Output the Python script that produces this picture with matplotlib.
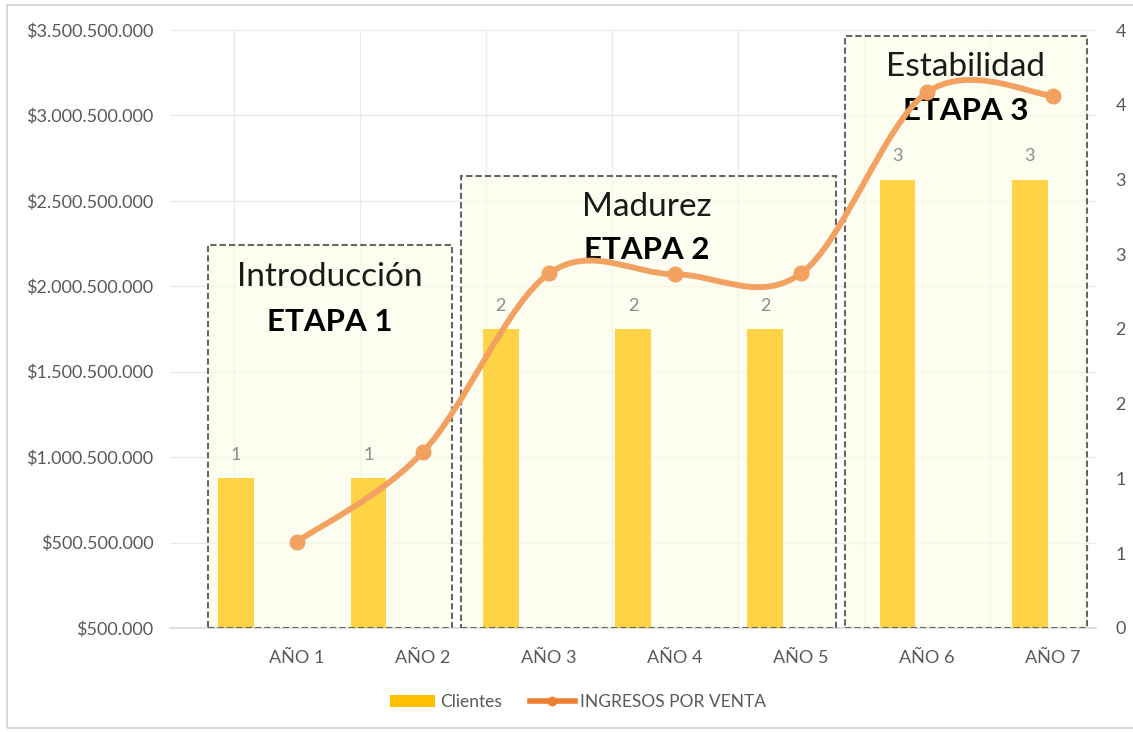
import numpy as np
import matplotlib
matplotlib.use("Agg")
import matplotlib.pyplot as plt
from matplotlib.path import Path
from matplotlib.patches import PathPatch, Rectangle, Patch
from matplotlib.lines import Line2D
from matplotlib.ticker import FuncFormatter, MultipleLocator

plt.rcParams["font.family"] = ["Lato", "DejaVu Sans"]

# ── Data ──────────────────────────────────────────────────────────────────────
years    = ["AÑO 1", "AÑO 2", "AÑO 3", "AÑO 4", "AÑO 5", "AÑO 6", "AÑO 7"]
clientes = [1, 1, 2, 2, 2, 3, 3]
ingresos = [505_500_000, 1_030_500_000, 2_075_500_000, 2_070_500_000,
            2_075_500_000, 3_135_500_000, 3_115_500_000]

stage_names  = ["Introducción", "Madurez", "Estabilidad"]
stage_labels = ["ETAPA 1", "ETAPA 2", "ETAPA 3"]

# ── Style ─────────────────────────────────────────────────────────────────────
BAR_COLOR   = "#FFD346"
LINE_COLOR  = "#F2A161"
LEG_BAR     = "#FFC000"
LEG_LINE    = "#ED7D31"
TICK_COLOR  = "#595959"
GRID_COLOR  = "#EBEBEB"
BOX_FILL    = "#FDFDE6"


def money(v, _pos):
    return "$" + f"{int(round(v)):,}".replace(",", ".")


def round_half_up(v, _pos):
    return f"{int(np.floor(v + 0.5))}"


def smooth_path(xs, ys):
    """Excel-like smoothed line: cubic Bezier segments (Catmull-Rom tangents)."""
    pts = np.column_stack([xs, ys]).astype(float)
    ext = np.vstack([pts[0], pts, pts[-1]])
    verts = [tuple(pts[0])]
    codes = [Path.MOVETO]
    for i in range(len(pts) - 1):
        p0, p1, p2, p3 = ext[i], ext[i + 1], ext[i + 2], ext[i + 3]
        c1 = p1 + (p2 - p0) / 6.0
        c2 = p2 - (p3 - p1) / 6.0
        verts += [tuple(c1), tuple(c2), tuple(p2)]
        codes += [Path.CURVE4] * 3
    return Path(verts, codes)


fig = plt.figure(figsize=(11.33, 7.32), dpi=100)
rect = [0.150, 0.1421, 0.8173, 0.8169]

# --- base layer: money axis, category labels and grid
ax = fig.add_axes(rect, zorder=0)
x = np.arange(len(years))
ax.set_xlim(-1.008, 6.34)
ax.set_ylim(500_000, 3_500_500_000)
ax.set_yticks(np.arange(500_000, 3_500_500_001, 500_000_000))
ax.yaxis.set_major_formatter(FuncFormatter(money))
ax.set_xticks(x)
ax.set_xticklabels(years)
ax.set_xticks(x - 0.5, minor=True)
ax.tick_params(which="both", length=0, colors=TICK_COLOR, labelsize=13)
ax.tick_params(axis="y", pad=12)
ax.tick_params(axis="x", pad=16)
ax.grid(True, axis="y", color=GRID_COLOR, lw=1)
ax.grid(True, axis="x", which="minor", color=GRID_COLOR, lw=1)
for s in ["top", "left", "right"]:
    ax.spines[s].set_visible(False)
ax.spines["bottom"].set_color("#D9D9D9")
ax.spines["bottom"].set_linewidth(1.2)

# --- middle layer: stage boxes and client bars
axb = fig.add_axes(rect, zorder=1)
axb.patch.set_alpha(0)
axb.set_xlim(-0.5, len(years) - 0.5)
axb.set_ylim(0, 4)
axb.set_xticks([])
axb.yaxis.tick_right()
axb.yaxis.set_major_locator(MultipleLocator(0.5))
axb.yaxis.set_major_formatter(FuncFormatter(round_half_up))
axb.tick_params(axis="y", length=0, colors=TICK_COLOR, labelsize=13, pad=14)
for s in axb.spines.values():
    s.set_visible(False)

boxes = [(0.041, 0.3045, 0.640), (0.314, 0.719, 0.756), (0.729, 0.990, 0.990)]
title_pos = [(0.173, 0.587, 0.512), (0.515, 0.704, 0.632), (0.859, 0.938, 0.865)]
for (x0, x1, y1), (tx, ty1, ty2), name, lab in zip(boxes, title_pos,
                                                   stage_names, stage_labels):
    axb.add_patch(Rectangle((x0, 0.0), x1 - x0, y1, transform=axb.transAxes,
                            facecolor=BOX_FILL, alpha=0.6, edgecolor="none",
                            zorder=1))
    axb.add_patch(Rectangle((x0, 0.0), x1 - x0, y1, transform=axb.transAxes,
                            facecolor="none", edgecolor="#666666", lw=1.5,
                            linestyle=(0, (3, 1.5)), zorder=4))
    axb.text(tx, ty1, name, transform=axb.transAxes, ha="center", va="center",
             fontsize=24, color="#1A1A1A", zorder=5)
    axb.text(tx, ty2, lab, transform=axb.transAxes, ha="center", va="center",
             fontsize=22.5, fontweight="bold", color="#000000", zorder=5)

bars = axb.bar(x, clientes, width=0.27, color=BAR_COLOR, zorder=3)
axb.bar_label(bars, labels=[str(c) for c in clientes], padding=11,
              color="#8C8C8C", fontsize=13)

# --- top layer: revenue line
axl = fig.add_axes(rect, zorder=2, sharex=ax, sharey=ax)
axl.patch.set_alpha(0)
axl.axis("off")
axl.add_patch(PathPatch(smooth_path(x, ingresos), facecolor="none",
                        edgecolor=LINE_COLOR, lw=4.2, capstyle="round"))
axl.plot(x, ingresos, linestyle="none", marker="o", markersize=10.5,
         color=LINE_COLOR)

# legend
handles = [Patch(facecolor=LEG_BAR, edgecolor="none"),
           Line2D([0], [0], color=LEG_LINE, lw=4, marker="o", markersize=6)]
fig.legend(handles, ["Clientes", "INGRESOS POR VENTA"], loc="center",
           bbox_to_anchor=(0.51, 0.041), ncol=2, frameon=False, fontsize=12.5,
           labelcolor=TICK_COLOR, handlelength=2.6, handletextpad=0.3,
           columnspacing=1.6)

# chart border
fig.add_artist(Rectangle((0.0062, 0.0055), 1.2, 0.9877, transform=fig.transFigure,
                         facecolor="none", edgecolor="#D9D9D9", lw=1.5))

fig.savefig("out.png", dpi=100)
